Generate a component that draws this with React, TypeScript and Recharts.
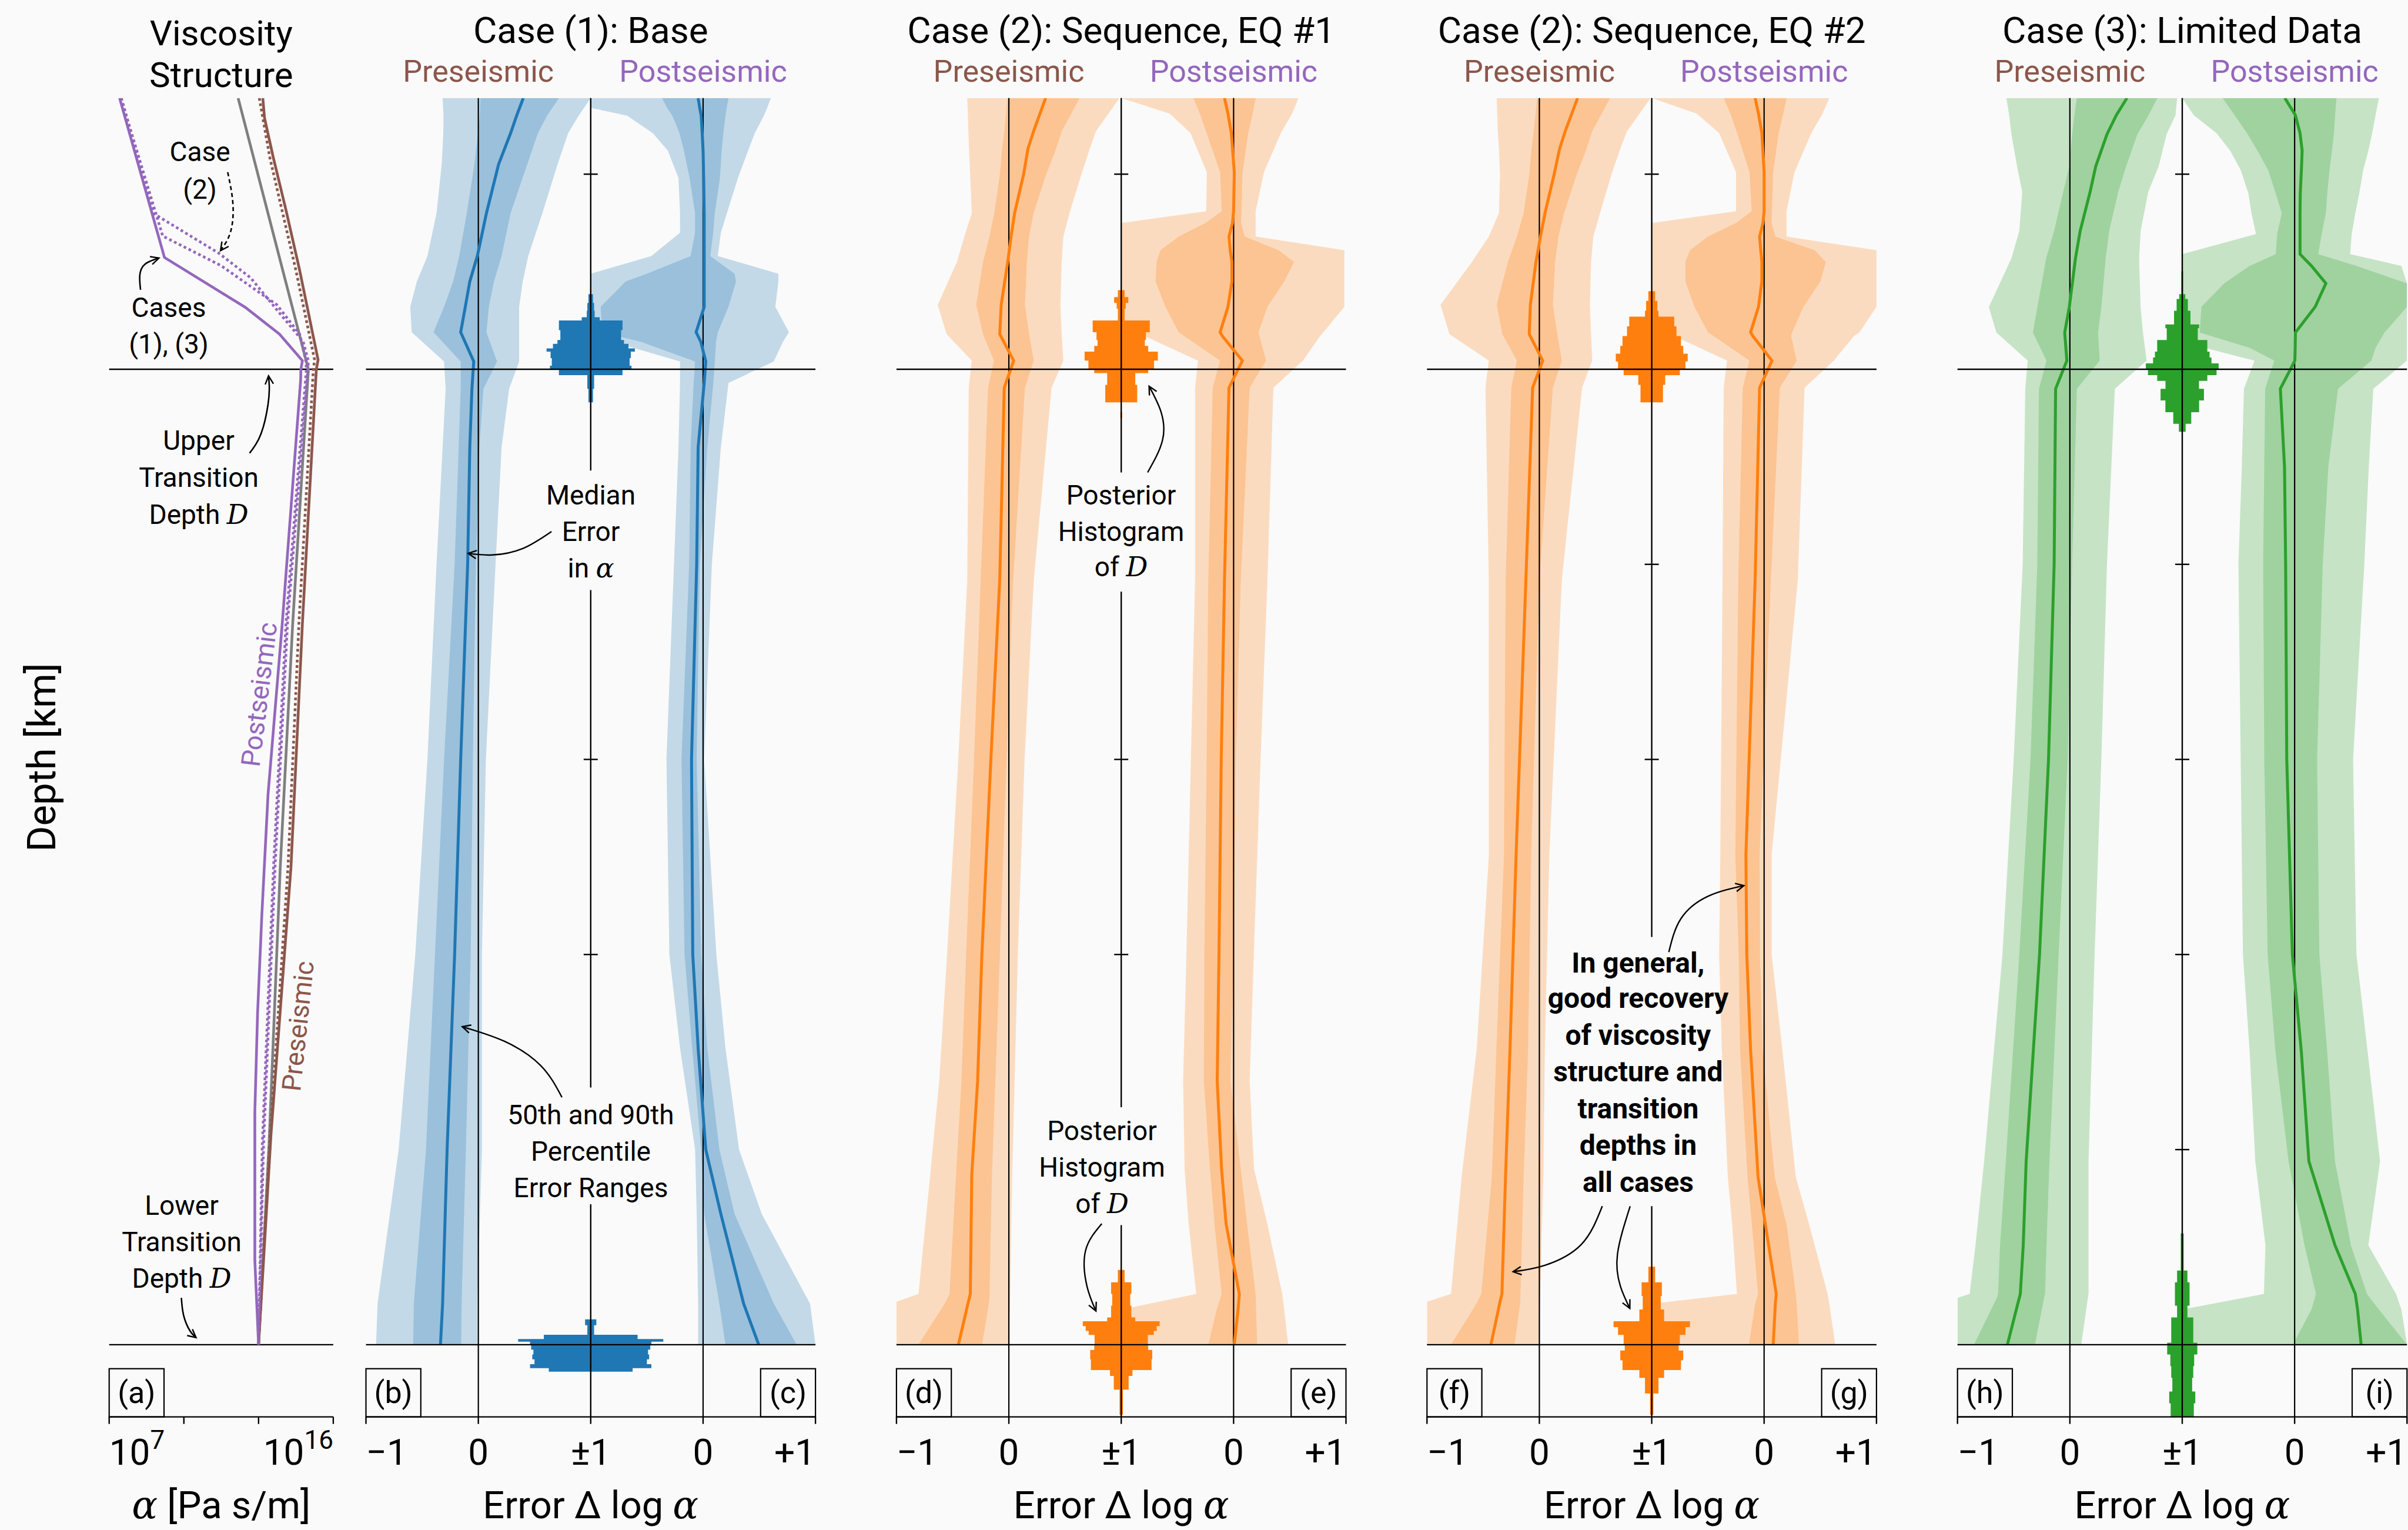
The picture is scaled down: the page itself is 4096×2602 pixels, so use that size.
import React from 'react';
import { ComposedChart, Line, Area, XAxis, YAxis, ReferenceLine } from 'recharts';

const SANS = "Roboto, 'Open Sans', sans-serif";
const MATH = "'DejaVu Serif', serif";
const BROWN = '#8c564b';
const PURPLE = '#9467bd';
const GRAY = '#7f7f7f';
const BG = '#fafafa';

const W = 4096;
const H = 2602;
const TOP = 166.8;
const BOTTOM = 2409.6;
const XAH = 100;
const TICK_BASE = 2490.7;
const PANEL_W = 764.6;
const A_LEFT = 185.7;
const A_RIGHT = 566.9;
const DEPTH_DOMAIN: [number, number] = [36.1, 103.7];
const DEPTH_TICKS = [40, 50, 60, 70, 80, 90, 100];
const DEPTH_LABELS = ['40', '50', '60', '', '80', '90', '100'];
const ERR_TICKS = [-1, 0, 1, 2, 3];
const ERR_LABELS = ['\u22121', '0', '\u00b11', '0', '+1'];
const LOG_TICKS = [7, 10, 13, 16];

// ---------- Panel (a): viscosity structure, log10(alpha) ----------
const A_POST_DEPTH = [36.1, 44.27, 46.82, 48.2, 49.56, 50.0, 50.55, 63.05, 71.8, 78.0, 83.0, 88.06, 95.67, 100];
const A_POST_LOG = [7.42, 9.22, 12.46, 13.84, 14.76, 14.7, 14.69, 13.95, 13.38, 13.13, 12.96, 12.85, 12.85, 13.0];
const A_POST_EQ1_DEPTH = [36.1, 42.03, 44.05, 45.31, 47.07, 48.58, 49.58, 50.0, 63.05, 75.55, 89.75, 100];
const A_POST_EQ1_LOG = [7.49, 8.8, 11.4, 12.68, 13.81, 14.79, 15.0, 14.98, 14.16, 13.66, 13.2, 13.0];
const A_POST_EQ2_DEPTH = [36.1, 43.17, 44.68, 46.69, 48.2, 49.58, 50.0, 63.05, 75.55, 89.75, 100];
const A_POST_EQ2_LOG = [7.47, 9.15, 11.48, 13.73, 14.65, 14.9, 14.92, 14.1, 13.6, 13.15, 13.0];
const A_PRE_DEPTH = [36.1, 37.13, 39.14, 41.78, 44.93, 49.52, 50.0, 63.05, 75.55, 89.2, 100];
const A_PRE_LOG = [13.17, 13.24, 13.59, 14.09, 14.65, 15.39, 15.32, 14.76, 14.3, 13.5, 13.0];
const A_PRE2_DEPTH = [36.1, 39.14, 44.93, 49.52, 50.0, 63.05, 75.55, 89.5, 100];
const A_PRE2_LOG = [13.03, 13.45, 14.5, 15.25, 15.2, 14.62, 14.18, 13.45, 13.0];
const A_TRUE_DEPTH = [36.1, 50.0, 63.05, 75.55, 89.75, 100];
const A_TRUE_LOG = [12.18, 15.0, 14.37, 13.87, 13.42, 13.0];

// annotation arrows in panel (a) (log alpha, depth)
const AR_CASE2 = { v: [11.76, 11.97, 11.87, 11.47], d: [39.9, 41.52, 42.98, 43.92] };
const AR_CASES13 = { v: [8.26, 8.23, 8.44, 9.0], d: [45.93, 45.18, 44.61, 44.3] };
const AR_UPPER = { v: [12.64, 13.1, 13.38, 13.43, 13.4], d: [54.3, 53.3, 51.8, 50.9, 50.34] };
const AR_LOWER = { v: [9.9, 9.99, 10.24, 10.49], d: [97.6, 98.5, 99.28, 99.64] };

// ---------- Case (1): Base ----------
const B_PRE_DEPTH = [36.1, 37.0, 37.9, 39.5, 42.0, 44.2, 45.5, 46.8, 48.1, 49.6, 51.0, 54.0, 60.0, 70.0, 80.0, 90.0, 97.9, 100.0];
const B_PRE_L90 = [-0.318, -0.31, -0.312, -0.326, -0.372, -0.453, -0.547, -0.606, -0.593, -0.305, -0.291, -0.318, -0.372, -0.453, -0.561, -0.709, -0.897, -0.91];
const B_PRE_L50 = [0.018, 0.013, -0.003, -0.035, -0.103, -0.17, -0.224, -0.305, -0.399, -0.157, -0.157, -0.175, -0.211, -0.305, -0.386, -0.466, -0.574, -0.58];
const B_PRE_MED = [0.4, 0.341, 0.287, 0.18, 0.072, -0.009, -0.076, -0.116, -0.157, -0.041, -0.057, -0.076, -0.095, -0.157, -0.211, -0.278, -0.318, -0.337];
const B_PRE_H50 = [0.718, 0.611, 0.53, 0.435, 0.287, 0.207, 0.139, 0.094, 0.072, 0.166, 0.045, 0.01, -0.022, -0.049, -0.068, -0.111, -0.149, -0.153];
const B_PRE_H90 = [1.0, 0.893, 0.799, 0.705, 0.57, 0.444, 0.395, 0.363, 0.363, 0.363, 0.274, 0.207, 0.153, 0.067, 0.032, 0.032, -0.009, -0.009];

const B_POST_DEPTH = [36.1, 36.6, 37.0, 37.9, 38.8, 40.2, 42.0, 43.0, 44.2, 45.1, 45.5, 46.8, 48.1, 48.6, 49.6, 50.7, 54.0, 60.0, 70.0, 80.0, 84.8, 90.0, 93.3, 97.9, 100.0];
const B_POST_L90 = [-1.0, -1.0, -0.676, -0.447, -0.313, -0.219, -0.205, -0.205, -0.461, -1.0, -1.0, -1.0, -1.0, -0.8, -0.205, -0.205, -0.219, -0.259, -0.326, -0.3, -0.205, -0.071, -0.057, -0.044, -0.044];
const B_POST_L50 = [-0.366, -0.32, -0.273, -0.21, -0.17, -0.12, -0.071, -0.071, -0.111, -0.5, -0.69, -0.911, -0.9, -0.55, -0.071, -0.084, -0.111, -0.124, -0.192, -0.165, -0.097, -0.017, 0.01, 0.145, 0.199];
const B_POST_MED = [-0.044, -0.03, -0.017, -0.008, 0.0, 0.005, 0.01, 0.01, 0.01, 0.01, 0.01, 0.01, -0.062, -0.02, 0.024, 0.01, -0.044, -0.057, -0.103, -0.092, -0.044, 0.024, 0.158, 0.361, 0.495];
const B_POST_H50 = [0.226, 0.21, 0.199, 0.18, 0.165, 0.15, 0.104, 0.09, 0.064, 0.28, 0.293, 0.226, 0.131, 0.115, 0.104, 0.091, 0.037, -0.03, -0.057, -0.017, 0.037, 0.145, 0.28, 0.63, 0.832];
const B_POST_H90 = [0.603, 0.57, 0.541, 0.46, 0.4, 0.31, 0.212, 0.158, 0.131, 0.67, 0.67, 0.643, 0.764, 0.71, 0.629, 0.226, 0.158, 0.078, 0.01, 0.118, 0.199, 0.32, 0.522, 0.952, 1.0];

const B_HTOP_EDGES = [46.15, 46.6, 47.0, 47.33, 47.5, 48.0, 48.5, 48.7, 48.93, 49.1, 49.43, 49.82, 50.0, 50.3, 51.0, 51.7];
const B_HTOP_HALF = [0.02, 0.03, 0.035, 0.08, 0.283, 0.27, 0.296, 0.336, 0.393, 0.357, 0.346, 0.363, 0.283, 0.03, 0.02];
const B_HBOT_EDGES = [98.7, 99.0, 99.49, 99.71, 99.85, 100.0, 100.25, 100.5, 100.75, 101.0, 101.2, 101.38];
const B_HBOT_HALF = [0.05, 0.03, 0.417, 0.646, 0.54, 0.53, 0.51, 0.52, 0.5, 0.54, 0.373];

// ---------- Case (2): Sequence, EQ #1 ----------
const D_PRE_DEPTH = [36.1, 37.8, 38.7, 40.05, 42.0, 43.2, 44.5, 46.7, 48.2, 49.56, 50.95, 60.8, 70, 80, 86.5, 91.3, 97.4, 97.8, 100];
const D_PRE_L90 = [-0.37, -0.36, -0.355, -0.344, -0.33, -0.396, -0.462, -0.633, -0.554, -0.33, -0.357, -0.37, -0.45, -0.55, -0.62, -0.7, -0.804, -1.0, -1.0];
const D_PRE_L50 = [-0.014, -0.04, -0.06, -0.081, -0.13, -0.172, -0.23, -0.29, -0.23, -0.133, -0.185, -0.251, -0.31, -0.38, -0.422, -0.47, -0.528, -0.56, -0.804];
const D_PRE_MED = [0.327, 0.22, 0.17, 0.13, 0.051, 0.02, -0.01, -0.068, -0.081, 0.043, -0.041, -0.081, -0.16, -0.24, -0.278, -0.33, -0.343, -0.36, -0.449];
const D_PRE_H50 = [0.63, 0.47, 0.42, 0.33, 0.22, 0.18, 0.16, 0.143, 0.18, 0.222, 0.143, 0.038, -0.02, -0.08, -0.12, -0.15, -0.172, -0.175, -0.238];
const D_PRE_H90 = [0.985, 0.775, 0.72, 0.643, 0.54, 0.485, 0.47, 0.459, 0.47, 0.485, 0.38, 0.222, 0.14, 0.08, 0.051, 0.03, 0.012, 0.01, -0.001];

const E_POST_DEPTH = [36.1, 36.9, 37.9, 39.9, 41.9, 42.5, 43.2, 43.9, 44.5, 45.5, 46.8, 48.1, 48.3, 49.56, 50.95, 60.8, 70, 80, 86.5, 91, 93.8, 97.4, 98.2, 100];
const E_POST_L90 = [-1.0, -0.568, -0.383, -0.238, -0.244, -1.0, -1.0, -1.0, -1.0, -1.0, -1.0, -1.0, -0.791, -0.317, -0.343, -0.343, -0.38, -0.42, -0.449, -0.436, -0.4, -0.333, -1.0, -1.0];
const E_POST_L50 = [-0.357, -0.3, -0.24, -0.12, -0.106, -0.25, -0.488, -0.65, -0.686, -0.694, -0.607, -0.488, -0.44, -0.12, -0.186, -0.225, -0.24, -0.26, -0.265, -0.21, -0.17, -0.107, -0.15, -0.225];
const E_POST_MED = [-0.081, -0.05, -0.02, 0.006, 0.0, -0.01, -0.041, -0.03, -0.015, -0.015, -0.05, -0.12, -0.1, 0.078, -0.041, -0.081, -0.11, -0.13, -0.146, -0.107, -0.067, 0.051, 0.04, 0.006];
const E_POST_H50 = [0.196, 0.17, 0.13, 0.08, 0.07, 0.066, 0.1, 0.4, 0.538, 0.45, 0.301, 0.222, 0.23, 0.288, 0.143, 0.064, 0.02, 0.0, -0.028, 0.064, 0.12, 0.196, 0.2, 0.209];
const E_POST_H90 = [0.578, 0.52, 0.42, 0.27, 0.196, 0.196, 0.196, 0.986, 0.986, 0.986, 0.986, 0.8, 0.77, 0.617, 0.354, 0.301, 0.24, 0.18, 0.143, 0.182, 0.3, 0.433, 0.45, 0.486];

const D_HTOP_EDGES = [45.95, 46.3, 46.6, 46.9, 47.5, 48.1, 48.5, 48.8, 49.1, 49.56, 50.0, 50.2, 50.8, 51.7, 52.2, 52.5];
const D_HTOP_HALF = [0.03, 0.063, 0.04, 0.03, 0.254, 0.22, 0.21, 0.24, 0.326, 0.292, 0.24, 0.125, 0.142, 0.0, 0.008];
const D_HBOT_EDGES = [96.17, 96.8, 97.4, 98.0, 98.6, 98.8, 99.05, 99.3, 99.5, 100.0, 100.27, 100.75, 101.3, 101.6, 102.3, 103.6];
const D_HBOT_HALF = [0.03, 0.09, 0.08, 0.09, 0.125, 0.342, 0.316, 0.29, 0.237, 0.24, 0.276, 0.27, 0.1, 0.066, 0.015];

// ---------- Case (2): Sequence, EQ #2 ----------
const F_PRE_DEPTH = [36.1, 37.8, 38.7, 40.05, 42.0, 43.2, 44.5, 46.7, 48.2, 49.56, 50.95, 60.8, 74.9, 84.8, 91.4, 97.4, 97.8, 100];
const F_PRE_L90 = [-0.38, -0.37, -0.36, -0.35, -0.36, -0.45, -0.6, -0.88, -0.8, -0.45, -0.48, -0.45, -0.449, -0.557, -0.692, -0.786, -1.0, -1.0];
const F_PRE_L50 = [-0.02, -0.05, -0.07, -0.09, -0.14, -0.2, -0.28, -0.38, -0.33, -0.2, -0.25, -0.3, -0.315, -0.382, -0.423, -0.517, -0.55, -0.786];
const F_PRE_MED = [0.34, 0.23, 0.18, 0.13, 0.05, 0.01, -0.03, -0.08, -0.09, 0.03, -0.06, -0.12, -0.207, -0.261, -0.301, -0.333, -0.35, -0.431];
const F_PRE_H50 = [0.63, 0.47, 0.42, 0.33, 0.22, 0.17, 0.14, 0.12, 0.16, 0.2, 0.12, 0.0, -0.073, -0.1, -0.14, -0.168, -0.17, -0.22];
const F_PRE_H90 = [0.99, 0.78, 0.72, 0.64, 0.54, 0.48, 0.46, 0.45, 0.46, 0.47, 0.38, 0.2, 0.089, 0.049, 0.035, 0.008, 0.005, -0.005];

const G_POST_DEPTH = [36.1, 36.9, 37.9, 39.9, 41.9, 42.5, 43.2, 43.9, 44.5, 45.5, 46.8, 48.1, 48.3, 49.56, 50.95, 60.8, 74.9, 80, 84.8, 91.4, 93.9, 97.4, 97.9, 100];
const G_POST_L90 = [-1.0, -0.6, -0.4, -0.25, -0.25, -1.0, -1.0, -1.0, -1.0, -1.0, -1.0, -1.0, -0.8, -0.33, -0.36, -0.37, -0.39, -0.4, -0.377, -0.323, -0.283, -0.242, -1.0, -1.0];
const G_POST_L50 = [-0.36, -0.3, -0.24, -0.13, -0.11, -0.25, -0.5, -0.66, -0.7, -0.7, -0.62, -0.5, -0.45, -0.13, -0.19, -0.23, -0.256, -0.226, -0.215, -0.148, -0.108, -0.054, -0.08, -0.135];
const G_POST_MED = [-0.08, -0.05, -0.02, 0.0, 0.0, -0.01, -0.04, -0.03, -0.02, -0.02, -0.05, -0.12, -0.1, 0.07, -0.04, -0.08, -0.162, -0.154, -0.121, -0.054, 0.013, 0.108, 0.1, 0.081];
const G_POST_H50 = [0.2, 0.17, 0.13, 0.08, 0.07, 0.066, 0.1, 0.45, 0.55, 0.5, 0.35, 0.25, 0.24, 0.29, 0.14, 0.06, -0.04, -0.037, -0.014, 0.094, 0.202, 0.282, 0.29, 0.31];
const G_POST_H90 = [0.58, 0.52, 0.42, 0.27, 0.2, 0.2, 0.2, 1.0, 1.0, 1.0, 1.0, 0.85, 0.8, 0.62, 0.36, 0.3, 0.067, 0.067, 0.161, 0.282, 0.404, 0.565, 0.58, 0.633];

const F_HTOP_EDGES = [46.0, 46.5, 47.0, 47.3, 47.8, 48.3, 48.8, 49.2, 49.6, 50.0, 50.3, 50.8, 51.7];
const F_HTOP_HALF = [0.03, 0.05, 0.06, 0.2, 0.22, 0.26, 0.28, 0.32, 0.3, 0.25, 0.12, 0.1];
const F_HBOT_EDGES = [96.0, 96.8, 97.5, 98.2, 98.8, 99.1, 99.5, 100.0, 100.3, 100.8, 101.3, 101.7, 102.5, 103.6];
const F_HBOT_HALF = [0.03, 0.09, 0.08, 0.11, 0.34, 0.3, 0.25, 0.24, 0.28, 0.26, 0.11, 0.06, 0.015];

// ---------- Case (3): Limited Data ----------
const H_PRE_DEPTH = [36.1, 36.98, 37.96, 39.6, 40.91, 42.9, 44.3, 46.81, 48.12, 49.56, 51.0, 60, 70, 80, 90.6, 94.9, 97.4, 97.6, 100];
const H_PRE_L90 = [-0.565, -0.54, -0.52, -0.47, -0.424, -0.45, -0.519, -0.721, -0.654, -0.375, -0.397, -0.42, -0.5, -0.6, -0.763, -0.84, -0.892, -1.0, -1.0];
const H_PRE_L50 = [0.062, 0.04, 0.02, -0.005, -0.059, -0.14, -0.21, -0.289, -0.329, -0.208, -0.275, -0.29, -0.35, -0.45, -0.57, -0.621, -0.639, -0.65, -0.853];
const H_PRE_MED = [0.508, 0.413, 0.33, 0.23, 0.18, 0.092, 0.05, -0.005, -0.046, -0.027, -0.127, -0.14, -0.19, -0.27, -0.389, -0.415, -0.441, -0.45, -0.556];
const H_PRE_H50 = [0.778, 0.7, 0.6, 0.5, 0.43, 0.35, 0.319, 0.28, 0.251, 0.265, 0.062, 0.02, -0.02, -0.1, -0.182, -0.208, -0.221, -0.23, -0.311];
const H_PRE_H90 = [0.954, 0.94, 0.86, 0.79, 0.697, 0.63, 0.616, 0.629, 0.65, 0.683, 0.4, 0.33, 0.28, 0.22, 0.166, 0.166, 0.166, 0.16, 0.101];

const I_POST_DEPTH = [36.1, 36.98, 37.9, 38.8, 39.8, 41.0, 42.0, 43.07, 44.1, 44.7, 45.6, 46.8, 48.12, 48.9, 49.56, 51.0, 55, 60, 70, 80, 85, 90.6, 94.9, 97.4, 98.2, 100];
const I_POST_L90 = [-1.0, -0.897, -0.695, -0.573, -0.479, -0.411, -0.384, -0.344, -1.0, -1.0, -1.0, -1.0, -1.0, -0.8, -0.357, -0.451, -0.47, -0.5, -0.48, -0.46, -0.4, -0.35, -0.26, -0.273, -1.0, -1.0];
const I_POST_L50 = [-0.641, -0.533, -0.424, -0.33, -0.235, -0.168, -0.114, -0.155, -0.168, -0.4, -0.627, -0.83, -0.844, -0.4, -0.181, -0.262, -0.27, -0.28, -0.27, -0.24, -0.17, -0.054, 0.088, 0.19, 0.15, -0.015];
const I_POST_MED = [-0.087, 0.007, 0.048, 0.067, 0.06, 0.05, 0.048, 0.048, 0.048, 0.15, 0.278, 0.183, 0.007, 0.005, 0.002, -0.127, -0.09, -0.08, -0.07, -0.02, 0.06, 0.127, 0.359, 0.54, 0.56, 0.592];
const I_POST_H50 = [0.372, 0.36, 0.35, 0.332, 0.31, 0.29, 0.278, 0.24, 0.21, 0.55, 1.0, 1.0, 0.8, 0.72, 0.683, 0.386, 0.3, 0.25, 0.2, 0.22, 0.29, 0.359, 0.501, 0.643, 0.75, 1.0];
const I_POST_H90 = [0.75, 0.72, 0.69, 0.656, 0.61, 0.575, 0.54, 0.508, 0.494, 0.95, 1.0, 1.0, 1.0, 1.0, 1.0, 0.7, 0.66, 0.62, 0.52, 0.55, 0.65, 0.76, 0.656, 0.902, 0.95, 1.0];

const H_HTOP_EDGES = [44.98, 46.15, 46.4, 47.0, 47.7, 47.9, 48.5, 48.84, 49.1, 49.4, 49.7, 50.0, 50.3, 50.6, 51.0, 51.6, 52.2, 52.8, 53.2];
const H_HTOP_HALF = [0.008, 0.027, 0.05, 0.073, 0.15, 0.138, 0.223, 0.223, 0.243, 0.26, 0.324, 0.305, 0.223, 0.149, 0.193, 0.15, 0.08, 0.03];
const H_HBOT_EDGES = [94.3, 96.2, 96.8, 98.0, 98.6, 99.9, 100.5, 101.1, 101.7, 102.4, 103.0, 103.7];
const H_HBOT_HALF = [0.013, 0.046, 0.065, 0.046, 0.098, 0.134, 0.106, 0.098, 0.088, 0.116, 0.103];

// annotation arrows in the error panels (combined axis value, depth)
const AR_MEDIAN = { v: [0.651, 0.395, 0.125, -0.09], d: [58.32, 59.19, 59.52, 59.44] };
const AR_RANGES = { v: [0.744, 0.556, 0.233, -0.143], d: [87.32, 85.7, 84.45, 83.7] };
const AR_HIST_UP = { v: [1.235, 1.367, 1.354, 1.248], d: [55.29, 53.65, 52.18, 50.87] };
const AR_HIST_LO = { v: [0.827, 0.682, 0.695, 0.775], d: [93.8, 95.19, 97.0, 98.27] };
const AR_GEN_A = { v: [1.152, 1.26, 1.502, 1.82], d: [79.88, 78.16, 77.01, 76.47] };
const AR_GEN_B = { v: [0.56, 0.372, 0.049, -0.234], d: [92.9, 94.87, 95.93, 96.26] };
const AR_GEN_C = { v: [0.808, 0.695, 0.721, 0.805], d: [92.9, 95.36, 97.0, 98.14] };

// ---------- table builders ----------
function bandRows(depth: number[], l90: number[], l50: number[], med: number[], h50: number[], h90: number[], offset: number) {
  return depth.map((d, i) => ({
    depth: d,
    r90: [l90[i] + offset, h90[i] + offset],
    r50: [l50[i] + offset, h50[i] + offset],
    med: med[i] + offset,
  }));
}
function histRows(edges: number[], half: number[]) {
  const rows: any[] = [];
  half.forEach((w, i) => {
    rows.push({ depth: edges[i], r: [1 - w, 1 + w] });
    rows.push({ depth: edges[i + 1], r: [1 - w, 1 + w] });
  });
  return rows;
}
function pathRows(a: { v: number[]; d: number[] }) {
  return a.v.map((v, i) => ({ depth: a.d[i], v }));
}
function lineRows(depth: number[], vals: number[]) {
  return depth.map((d, i) => ({ depth: d, v: vals[i] }));
}
function centerSegments(gaps: number[][]) {
  const segs: number[][] = [];
  let start = DEPTH_DOMAIN[0];
  gaps.forEach(([a, b]) => {
    segs.push([start, a]);
    start = b;
  });
  segs.push([start, DEPTH_DOMAIN[1]]);
  return segs;
}

const PANELS = [
  {
    id: 'b', left: 622.5, color: '#1f77b4', title: 'Case (1): Base', boxes: ['(b)', '(c)'],
    pre: bandRows(B_PRE_DEPTH, B_PRE_L90, B_PRE_L50, B_PRE_MED, B_PRE_H50, B_PRE_H90, 0),
    post: bandRows(B_POST_DEPTH, B_POST_L90, B_POST_L50, B_POST_MED, B_POST_H50, B_POST_H90, 2),
    hists: [histRows(B_HTOP_EDGES, B_HTOP_HALF), histRows(B_HBOT_EDGES, B_HBOT_HALF)],
    gaps: [[55.19, 61.32], [86.82, 92.8]],
    arrows: [AR_MEDIAN, AR_RANGES],
  },
  {
    id: 'd', left: 1524.9, color: '#ff7f0e', title: 'Case (2): Sequence, EQ #1', boxes: ['(d)', '(e)'],
    pre: bandRows(D_PRE_DEPTH, D_PRE_L90, D_PRE_L50, D_PRE_MED, D_PRE_H50, D_PRE_H90, 0),
    post: bandRows(E_POST_DEPTH, E_POST_L90, E_POST_L50, E_POST_MED, E_POST_H50, E_POST_H90, 2),
    hists: [histRows(D_HTOP_EDGES, D_HTOP_HALF), histRows(D_HBOT_EDGES, D_HBOT_HALF)],
    gaps: [[55.29, 61.4], [87.83, 93.87]],
    arrows: [AR_HIST_UP, AR_HIST_LO],
  },
  {
    id: 'f', left: 2427.3, color: '#ff7f0e', title: 'Case (2): Sequence, EQ #2', boxes: ['(f)', '(g)'],
    pre: bandRows(F_PRE_DEPTH, F_PRE_L90, F_PRE_L50, F_PRE_MED, F_PRE_H50, F_PRE_H90, 0),
    post: bandRows(G_POST_DEPTH, G_POST_L90, G_POST_L50, G_POST_MED, G_POST_H50, G_POST_H90, 2),
    hists: [histRows(F_HTOP_EDGES, F_HTOP_HALF), histRows(F_HBOT_EDGES, F_HBOT_HALF)],
    gaps: [[79.1, 92.9]],
    arrows: [AR_GEN_A, AR_GEN_B, AR_GEN_C],
  },
  {
    id: 'h', left: 3329.7, color: '#2ca02c', title: 'Case (3): Limited Data', boxes: ['(h)', '(i)'],
    pre: bandRows(H_PRE_DEPTH, H_PRE_L90, H_PRE_L50, H_PRE_MED, H_PRE_H50, H_PRE_H90, 0),
    post: bandRows(I_POST_DEPTH, I_POST_L90, I_POST_L50, I_POST_MED, I_POST_H50, I_POST_H90, 2),
    hists: [histRows(H_HTOP_EDGES, H_HTOP_HALF), histRows(H_HBOT_EDGES, H_HBOT_HALF)],
    gaps: [],
    arrows: [],
  },
];

const AX = { stroke: '#000', strokeWidth: 2.4 };
const renderNone = () => <g />;

function errTick(props: any) {
  const { x, payload } = props;
  const i = ERR_TICKS.indexOf(payload.value);
  const anchor = i === 0 ? 'start' : i === ERR_TICKS.length - 1 ? 'end' : 'middle';
  return (
    <text x={x} y={TICK_BASE} textAnchor={anchor} fontSize={62} fontFamily={SANS} fill="#000">
      {ERR_LABELS[i]}
    </text>
  );
}
function logTick(props: any) {
  const { x, payload } = props;
  const v = payload.value;
  if (v !== LOG_TICKS[0] && v !== LOG_TICKS[LOG_TICKS.length - 1]) return <g />;
  return (
    <text x={x} y={TICK_BASE} textAnchor={v === LOG_TICKS[0] ? 'start' : 'end'} fontSize={62} fontFamily={SANS} fill="#000">
      <tspan>10</tspan>
      <tspan dy={-27} fontSize={44}>{v}</tspan>
    </text>
  );
}
function depthTick(props: any) {
  const { y, payload } = props;
  const i = DEPTH_TICKS.indexOf(payload.value);
  return (
    <text x={158} y={y + 22} textAnchor="end" fontSize={62} fontFamily={SANS} fill="#000">
      {DEPTH_LABELS[i]}
    </text>
  );
}

function ErrorPanel({ p }: { p: any }) {
  const right = p.left + PANEL_W;
  const segs = centerSegments(p.gaps);
  const cross = [40, 60, 70, 80, 90].filter((t) => !p.gaps.some(([a, b]: number[]) => t > a && t < b));
  const crossHalf = 12 / (PANEL_W / 4);
  return (
    <div style={{ position: 'absolute', left: 0, top: 0 }}>
      <ComposedChart
        width={W}
        height={H}
        layout="vertical"
        margin={{ top: TOP, left: p.left, right: W - right, bottom: H - BOTTOM - XAH }}
      >
        <XAxis type="number" domain={[-1, 3]} ticks={ERR_TICKS} interval={0} allowDataOverflow height={XAH} tickSize={12} tickLine={AX} axisLine={AX} tick={errTick} />
        <XAxis xAxisId="top" orientation="top" type="number" domain={[-1, 3]} allowDataOverflow height={0} tick={false} tickLine={false} axisLine={AX} />
        <YAxis type="number" dataKey="depth" domain={DEPTH_DOMAIN} allowDataOverflow ticks={DEPTH_TICKS} interval={0} width={0} mirror tickSize={12} tick={renderNone} tickLine={AX} axisLine={AX} />
        <YAxis yAxisId="right" orientation="right" type="number" dataKey="depth" domain={DEPTH_DOMAIN} allowDataOverflow ticks={DEPTH_TICKS} interval={0} width={0} mirror tickSize={12} tick={renderNone} tickLine={AX} axisLine={AX} />
        <ReferenceLine x={0} stroke="#000" strokeWidth={2.2} ifOverflow="visible" />
        <ReferenceLine x={2} stroke="#000" strokeWidth={2.2} ifOverflow="visible" />
        <Area data={p.pre} dataKey="r90" type="linear" fill={p.color} fillOpacity={0.25} stroke="none" dot={false} activeDot={false} isAnimationActive={false} />
        <Area data={p.pre} dataKey="r50" type="linear" fill={p.color} fillOpacity={0.25} stroke="none" dot={false} activeDot={false} isAnimationActive={false} />
        <Area data={p.post} dataKey="r90" type="linear" fill={p.color} fillOpacity={0.25} stroke="none" dot={false} activeDot={false} isAnimationActive={false} />
        <Area data={p.post} dataKey="r50" type="linear" fill={p.color} fillOpacity={0.25} stroke="none" dot={false} activeDot={false} isAnimationActive={false} />
        {p.hists.map((h: any, i: number) => (
          <Area key={'h' + i} data={h} dataKey="r" type="linear" fill={p.color} fillOpacity={1} stroke="none" dot={false} activeDot={false} isAnimationActive={false} />
        ))}
        <Line data={p.pre} dataKey="med" type="linear" stroke={p.color} strokeWidth={5} dot={false} activeDot={false} isAnimationActive={false} />
        <Line data={p.post} dataKey="med" type="linear" stroke={p.color} strokeWidth={5} dot={false} activeDot={false} isAnimationActive={false} />
        <ReferenceLine y={50} stroke="#000" strokeWidth={2.4} ifOverflow="visible" />
        <ReferenceLine y={100} stroke="#000" strokeWidth={2.4} ifOverflow="visible" />
        {segs.map((s, i) => (
          <ReferenceLine key={'s' + i} segment={[{ x: 1, y: s[0] }, { x: 1, y: s[1] }]} stroke="#000" strokeWidth={2.4} ifOverflow="visible" />
        ))}
        {cross.map((t) => (
          <ReferenceLine key={'c' + t} segment={[{ x: 1 - crossHalf, y: t }, { x: 1 + crossHalf, y: t }]} stroke="#000" strokeWidth={2.4} ifOverflow="visible" />
        ))}
        {p.arrows.map((a: any, i: number) => (
          <Line key={'a' + i} data={pathRows(a)} dataKey="v" type="natural" stroke="#000" strokeWidth={2.4} dot={false} activeDot={false} isAnimationActive={false} markerEnd="url(#arrowHead)" />
        ))}
      </ComposedChart>
    </div>
  );
}

function ViscosityPanel() {
  const lw = 4.6;
  const dash = '4.6 4.6';
  return (
    <div style={{ position: 'absolute', left: 0, top: 0 }}>
      <ComposedChart
        width={W}
        height={H}
        layout="vertical"
        margin={{ top: TOP, left: A_LEFT, right: W - A_RIGHT, bottom: H - BOTTOM - XAH }}
      >
        <XAxis type="number" domain={[7, 16]} ticks={LOG_TICKS} interval={0} allowDataOverflow height={XAH} tickSize={12} tickLine={AX} axisLine={AX} tick={logTick} />
        <XAxis xAxisId="top" orientation="top" type="number" domain={[7, 16]} allowDataOverflow height={0} tick={false} tickLine={false} axisLine={AX} />
        <YAxis type="number" dataKey="depth" domain={DEPTH_DOMAIN} allowDataOverflow ticks={DEPTH_TICKS} interval={0} width={0} tickSize={12.5} tick={depthTick} tickLine={AX} axisLine={AX} />
        <YAxis yAxisId="right" orientation="right" type="number" dataKey="depth" domain={DEPTH_DOMAIN} allowDataOverflow width={0} tick={false} tickLine={false} axisLine={AX} />
        <ReferenceLine y={50} stroke="#000" strokeWidth={2.4} ifOverflow="visible" />
        <ReferenceLine y={100} stroke="#000" strokeWidth={2.4} ifOverflow="visible" />
        <Line data={lineRows(A_TRUE_DEPTH, A_TRUE_LOG)} dataKey="v" type="linear" stroke={GRAY} strokeWidth={lw} dot={false} activeDot={false} isAnimationActive={false} />
        <Line data={lineRows(A_PRE_DEPTH, A_PRE_LOG)} dataKey="v" type="linear" stroke={BROWN} strokeWidth={lw} dot={false} activeDot={false} isAnimationActive={false} />
        <Line data={lineRows(A_PRE2_DEPTH, A_PRE2_LOG)} dataKey="v" type="linear" stroke={BROWN} strokeWidth={lw} strokeDasharray={dash} dot={false} activeDot={false} isAnimationActive={false} />
        <Line data={lineRows(A_POST_DEPTH, A_POST_LOG)} dataKey="v" type="linear" stroke={PURPLE} strokeWidth={lw} dot={false} activeDot={false} isAnimationActive={false} />
        <Line data={lineRows(A_POST_EQ1_DEPTH, A_POST_EQ1_LOG)} dataKey="v" type="linear" stroke={PURPLE} strokeWidth={lw} strokeDasharray={dash} dot={false} activeDot={false} isAnimationActive={false} />
        <Line data={lineRows(A_POST_EQ2_DEPTH, A_POST_EQ2_LOG)} dataKey="v" type="linear" stroke={PURPLE} strokeWidth={lw} strokeDasharray={dash} dot={false} activeDot={false} isAnimationActive={false} />
        <Line data={pathRows(AR_CASE2)} dataKey="v" type="natural" stroke="#000" strokeWidth={2.6} strokeDasharray="7 5" dot={false} activeDot={false} isAnimationActive={false} markerEnd="url(#arrowHead)" />
        <Line data={pathRows(AR_CASES13)} dataKey="v" type="natural" stroke="#000" strokeWidth={2.6} dot={false} activeDot={false} isAnimationActive={false} markerEnd="url(#arrowHead)" />
        <Line data={pathRows(AR_UPPER)} dataKey="v" type="natural" stroke="#000" strokeWidth={2.6} dot={false} activeDot={false} isAnimationActive={false} markerEnd="url(#arrowHead)" />
        <Line data={pathRows(AR_LOWER)} dataKey="v" type="natural" stroke="#000" strokeWidth={2.6} dot={false} activeDot={false} isAnimationActive={false} markerEnd="url(#arrowHead)" />
      </ComposedChart>
    </div>
  );
}

function Lines({ x, ys, lines, size = 46, weight = 400 }: { x: number; ys: number[]; lines: React.ReactNode[]; size?: number; weight?: number }) {
  return (
    <g>
      {lines.map((l, i) => (
        <text key={i} x={x} y={ys[i]} textAnchor="middle" fontSize={size} fontWeight={weight} fontFamily={SANS} fill="#000">
          {l}
        </text>
      ))}
    </g>
  );
}

const alpha = <tspan fontFamily={MATH} fontStyle="italic">α</tspan>;
const Dsym = <tspan fontFamily={MATH} fontStyle="italic">D</tspan>;

function Overlay() {
  const boxW = 93.3;
  const boxTop = 2327.7;
  const LABEL_BASE = 2582;
  return (
    <svg width={W} height={H} style={{ position: 'absolute', left: 0, top: 0, pointerEvents: 'none' }}>
      {/* panel (a) titles and axes labels */}
      <text x={376.3} y={77} textAnchor="middle" fontSize={60} fontFamily={SANS}>Viscosity</text>
      <text x={376.3} y={148} textAnchor="middle" fontSize={60} fontFamily={SANS}>Structure</text>
      <text x={376.3} y={LABEL_BASE} textAnchor="middle" fontSize={65} fontFamily={SANS}>
        {alpha}
        <tspan> [Pa s/m]</tspan>
      </text>
      <text transform="translate(71,1288) rotate(-90)" textAnchor="middle" dominantBaseline="central" fontSize={67} fontFamily={SANS}>
        Depth [km]
      </text>
      <rect x={A_LEFT} y={boxTop} width={boxW} height={BOTTOM - boxTop} fill="none" stroke="#000" strokeWidth={2.2} />
      <text x={A_LEFT + boxW / 2} y={2386} textAnchor="middle" fontSize={52} fontFamily={SANS}>(a)</text>
      <Lines x={340} ys={[273.6, 338]} lines={['Case', '(2)']} />
      <Lines x={287} ys={[538.7, 601.4]} lines={['Cases', '(1), (3)']} />
      <Lines x={338} ys={[765, 828, 891]} lines={['Upper', 'Transition', <>Depth {Dsym}</>]} />
      <Lines x={309} ys={[2066, 2128, 2190]} lines={['Lower', 'Transition', <>Depth {Dsym}</>]} />
      <text transform="translate(441,1181) rotate(-83)" textAnchor="middle" dominantBaseline="central" fontSize={45} fontFamily={SANS} fill={PURPLE}>
        Postseismic
      </text>
      <text transform="translate(507,1745) rotate(-84)" textAnchor="middle" dominantBaseline="central" fontSize={45} fontFamily={SANS} fill={BROWN}>
        Preseismic
      </text>

      {PANELS.map((p) => {
        const right = p.left + PANEL_W;
        const cx = p.left + PANEL_W / 2;
        return (
          <g key={p.id}>
            <text x={cx} y={73} textAnchor="middle" fontSize={62} fontFamily={SANS}>{p.title}</text>
            <text x={p.left + PANEL_W / 4} y={139} textAnchor="middle" fontSize={52} fontFamily={SANS} fill={BROWN}>Preseismic</text>
            <text x={p.left + (3 * PANEL_W) / 4} y={139} textAnchor="middle" fontSize={52} fontFamily={SANS} fill={PURPLE}>Postseismic</text>
            <text x={cx} y={LABEL_BASE} textAnchor="middle" fontSize={65} fontFamily={SANS}>
              <tspan>Error Δ log </tspan>
              {alpha}
            </text>
            <rect x={p.left} y={boxTop} width={boxW} height={BOTTOM - boxTop} fill="none" stroke="#000" strokeWidth={2.2} />
            <text x={p.left + boxW / 2} y={2386} textAnchor="middle" fontSize={52} fontFamily={SANS}>{p.boxes[0]}</text>
            <rect x={right - boxW} y={boxTop} width={boxW} height={BOTTOM - boxTop} fill="none" stroke="#000" strokeWidth={2.2} />
            <text x={right - boxW / 2} y={2386} textAnchor="middle" fontSize={52} fontFamily={SANS}>{p.boxes[1]}</text>
          </g>
        );
      })}

      <Lines x={1005} ys={[858, 920, 982]} lines={['Median', 'Error', <>in {alpha}</>]} />
      <Lines x={1005} ys={[1912, 1974, 2036]} lines={['50th and 90th', 'Percentile', 'Error Ranges']} />
      <Lines x={1907} ys={[858, 920, 980]} lines={['Posterior', 'Histogram', <>of {Dsym}</>]} />
      <Lines x={1874.5} ys={[1939, 2001, 2063]} lines={['Posterior', 'Histogram', <>of {Dsym}</>]} />
      <Lines
        x={2786.4}
        ys={[1654, 1714, 1777, 1839, 1902, 1964, 2027]}
        size={48}
        weight={700}
        lines={['In general,', 'good recovery', 'of viscosity', 'structure and', 'transition', 'depths in', 'all cases']}
      />
    </svg>
  );
}

export default function App() {
  return (
    <div style={{ position: 'absolute', left: 0, top: 0, width: W, height: H, background: BG, overflow: 'hidden' }}>
      <svg width={0} height={0} style={{ position: 'absolute' }}>
        <defs>
          <marker id="arrowHead" viewBox="0 0 20 20" refX="17" refY="10" markerWidth="20" markerHeight="20" markerUnits="userSpaceOnUse" orient="auto">
            <path d="M3,3 L17,10 L3,17" fill="none" stroke="#000" strokeWidth="2.4" />
          </marker>
        </defs>
      </svg>
      <ViscosityPanel />
      {PANELS.map((p) => (
        <ErrorPanel key={p.id} p={p} />
      ))}
      <Overlay />
    </div>
  );
}
